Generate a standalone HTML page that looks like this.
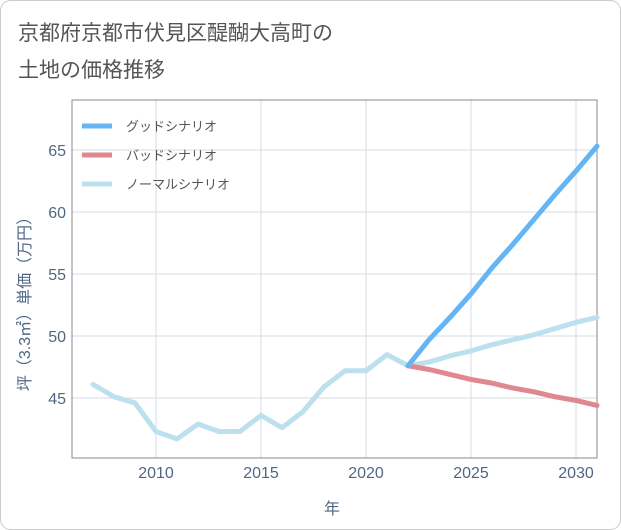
<!DOCTYPE html>
<html><head><meta charset="utf-8"><style>
body{margin:0;background:#fff;}
svg{display:block;font-family:"Liberation Sans","Noto Sans CJK JP",sans-serif;}
</style></head><body>
<svg width="621" height="530">
<rect x="0.5" y="0.5" width="620" height="529" rx="10" fill="#fff" stroke="#ccc"/>
<text x="18" y="40" font-size="21" fill="#555">京都府京都市伏見区醍醐大高町の</text>
<text x="18" y="77" font-size="21" fill="#555">土地の価格推移</text>
<g id="grid"></g>
<rect x="72" y="100" width="525" height="358" fill="none" stroke="#888" stroke-width="1"/>
<g id="series"></g>
<g id="axes"></g>
<text x="332" y="514" font-size="16" fill="#506784" text-anchor="middle">年</text>
<text transform="translate(30,300) rotate(-90)" font-size="16" fill="#506784" text-anchor="middle">坪（3.3㎡）単価（万円）</text>
<g>
<line x1="82" y1="126" x2="112" y2="126" stroke="#64b5f6" stroke-width="5"/>
<text x="126" y="131" font-size="13" fill="#555">グッドシナリオ</text>
<line x1="82" y1="155" x2="112" y2="155" stroke="#e08890" stroke-width="5"/>
<text x="126" y="160" font-size="13" fill="#555">バッドシナリオ</text>
<line x1="82" y1="184" x2="112" y2="184" stroke="#bde0ef" stroke-width="5"/>
<text x="126" y="189" font-size="13" fill="#555">ノーマルシナリオ</text>
</g>
</svg>
<script>
const histYears=[2007,2008,2009,2010,2011,2012,2013,2014,2015,2016,2017,2018,2019,2020,2021,2022];
const histValues=[46.1,45.1,44.6,42.3,41.7,42.9,42.3,42.3,43.6,42.6,43.9,45.9,47.2,47.2,48.5,47.6];
const futYears=[2022,2023,2024,2025,2026,2027,2028,2029,2030,2031];
const goodValues=[47.6,49.7,51.5,53.4,55.5,57.4,59.4,61.4,63.3,65.3];
const badValues=[47.6,47.3,46.9,46.5,46.2,45.8,45.5,45.1,44.8,44.4];
const normalValues=[47.6,47.9,48.4,48.8,49.3,49.7,50.1,50.6,51.1,51.5];
const xTicks=[2010,2015,2020,2025,2030];
const yTicks=[45,50,55,60,65];
const NS='http://www.w3.org/2000/svg';
const X=y=>156+(y-2010)*21;
const Y=v=>398-(v-45)*12.4;
function mk(t,a){const e=document.createElementNS(NS,t);for(const k in a)e.setAttribute(k,a[k]);return e;}
const grid=document.getElementById('grid'),axes=document.getElementById('axes'),ser=document.getElementById('series');
xTicks.forEach(t=>{
 const l=mk('line',{x1:X(t),x2:X(t),y1:100,y2:458,stroke:'#d5dde6'});
 
 
 grid.appendChild(l);
 const tx=mk('text',{x:X(t),y:478,'font-size':16,fill:'#506784','text-anchor':'middle'});tx.textContent=t;
 
 
 axes.appendChild(tx);
});
yTicks.forEach(t=>{
 const l=mk('line',{x1:72,x2:597,y1:Y(t),y2:Y(t),stroke:'#d5dde6'});
 
 
 grid.appendChild(l);
 const tx=mk('text',{x:66,y:Y(t)+6,'font-size':16,fill:'#506784','text-anchor':'end'});tx.textContent=t;
 
 
 axes.appendChild(tx);
});
function line(xs,vs,c,name){
 const p=mk('polyline',{points:xs.map((x,i)=>X(x)+','+Y(vs[i])).join(' '),fill:'none',stroke:c,'stroke-width':5,'stroke-linejoin':'round','stroke-linecap':'round'});
 
 
 ser.appendChild(p);
}
line(histYears,histValues,'#bde0ef','historical-line');
line(futYears,normalValues,'#bde0ef','normal-scenario-line');
line(futYears,badValues,'#e08890','bad-scenario-line');
line(futYears,goodValues,'#64b5f6','good-scenario-line');
</script>
</body></html>
